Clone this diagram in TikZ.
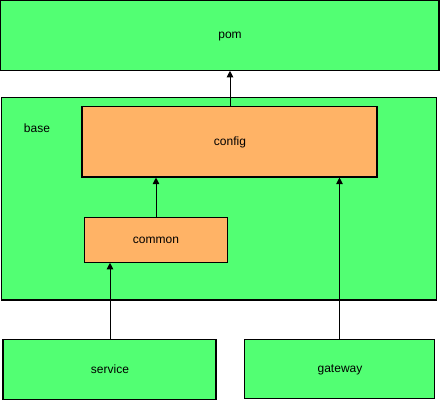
\documentclass[tikz,border=0pt]{standalone}
\usepackage{fontspec}
\setmainfont{Liberation Sans}
\usetikzlibrary{arrows.meta}
\definecolor{boxgreen}{RGB}{82,255,115}
\definecolor{boxorange}{RGB}{255,179,102}
\begin{document}
\begin{tikzpicture}[x=0.75pt,y=-0.75pt,
  box/.style={draw=black,line width=0.8pt,inner sep=0pt,font=\fontsize{9}{11}\selectfont},
  gbox/.style={box,fill=boxgreen},
  obox/.style={box,fill=boxorange},
  lbl/.style={font=\fontsize{9}{11}\selectfont,inner sep=0pt},
  arr/.style={-{Triangle[length=5pt,width=5pt]},line width=0.75pt,draw=black}]
\useasboundingbox (0,0) rectangle (440,400);
\node[gbox,minimum width=438.5*0.75pt,minimum height=70*0.75pt] (pom) at (219.75,35.25) {};
\node[lbl] (pomlbl) at (230,37) {pom};
\node[gbox,minimum width=435*0.75pt,minimum height=202.5*0.75pt] (base) at (219,198.75) {};
\node[lbl] (baselbl) at (37,128) {base};
\node[obox,minimum width=295*0.75pt,minimum height=70.5*0.75pt] (config) at (229.5,141.75) {};
\node[lbl] (configlbl) at (230,142.5) {config};
\node[obox,minimum width=143*0.75pt,minimum height=45*0.75pt] (common) at (155.75,239.75) {};
\node[lbl] (commonlbl) at (156,240.5) {common};
\node[gbox,minimum width=213*0.75pt,minimum height=60*0.75pt] (service) at (109.5,369.25) {};
\node[lbl] (servicelbl) at (110,369.5) {service};
\node[gbox,minimum width=190*0.75pt,minimum height=59*0.75pt] (gateway) at (339.5,368.75) {};
\node[lbl] (gatewaylbl) at (340,369.5) {gateway};
\draw[arr] (config.north -| 230,0) -- (pom.south -| 230,0);
\draw[arr] (common.north -| 156,0) -- (config.south -| 156,0);
\draw[arr] (service.north -| 110,0) -- (common.south -| 110,0);
\draw[arr] (gateway.north -| 339.5,0) -- (config.south -| 339.5,0);
\end{tikzpicture}
\end{document}
